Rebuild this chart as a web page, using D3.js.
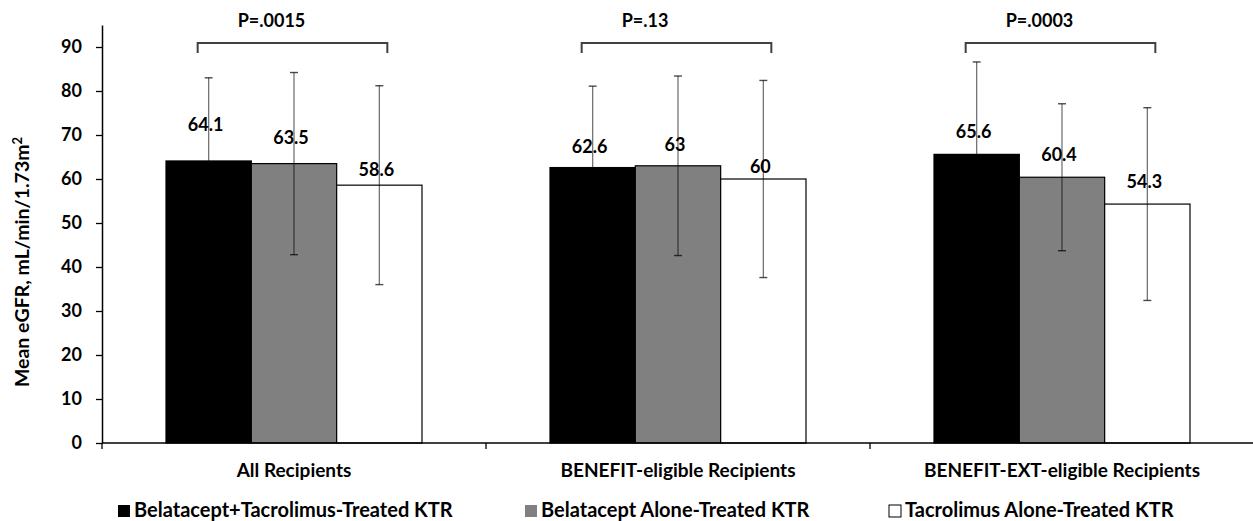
<!DOCTYPE html>
<html>
<head>
<meta charset="utf-8">
<script src="https://cdn.jsdelivr.net/npm/d3@7"></script>
<style>
  html, body { margin: 0; padding: 0; background: #fff; }
  svg { display: block; font-family: Lato, "Open Sans", sans-serif; font-weight: bold; }
</style>
</head>
<body>
<svg id="chart" width="1253" height="521"></svg>
<script>
// ---- data ----
const categories = ["All Recipients", "BENEFIT-eligible Recipients", "BENEFIT-EXT-eligible Recipients"];
const seriesNames = ["Belatacept+Tacrolimus-Treated KTR", "Belatacept Alone-Treated KTR", "Tacrolimus Alone-Treated KTR"];
const belaTacMean = [64.1, 62.6, 65.6];
const belaAloneMean = [63.5, 63, 60.4];
const tacAloneMean = [58.6, 60, 54.3];
const belaTacSD = [18.9, 18.5, 21.0];
const belaAloneSD = [20.7, 20.4, 16.7];
const tacAloneSD = [22.6, 22.4, 21.9];
const pValues = ["P=.0015", "P=.13", "P=.0003"];
const yTicks = [0, 10, 20, 30, 40, 50, 60, 70, 80, 90];
const yTitle = "Mean eGFR, mL/min/1.73m";

// ---- styles / layout ----
const fills = ["#000000", "#808080", "#ffffff"];
const labelLift = [[30, 20, 9], [15, 15, 6], [16, 16, 16]]; // manual label placement (px above bar)
const means = [belaTacMean, belaAloneMean, tacAloneMean];
const sds = [belaTacSD, belaAloneSD, tacAloneSD];

const svg = d3.select("#chart");
const x0 = d3.scaleBand().domain(categories).range([102, 1254]).padding(0);
const x1 = d3.scaleBand().domain(seriesNames).range([64, 320]).padding(0);
const y = d3.scaleLinear().domain([0, 95]).range([443, 25]);

// y axis
const yAxis = svg.append("g").attr("transform", "translate(102,0)")
  .call(d3.axisLeft(y).tickValues(yTicks).tickSize(6).tickPadding(14).tickSizeOuter(0));
yAxis.select(".domain").attr("stroke", "#000").attr("stroke-width", 1.5);
yAxis.selectAll(".tick line").attr("stroke", "#000").attr("stroke-width", 1.3);
yAxis.selectAll(".tick text").attr("font-size", 18).attr("font-weight", "bold")
  .attr("font-family", "Lato").attr("fill", "#000");

// y title
const yt = svg.append("text")
  .attr("transform", "translate(29,262) rotate(-90)")
  .attr("text-anchor", "middle").attr("font-size", 19.5).attr("fill", "#000");
yt.append("tspan").text(yTitle);
yt.append("tspan").attr("font-size", 13).attr("dy", -7).text("2");

// bars
const groups = svg.append("g").selectAll("g").data(categories).join("g")
  .attr("transform", d => `translate(${x0(d)},0)`);

categories.forEach((cat, ci) => {
  const g = groups.filter(d => d === cat);
  seriesNames.forEach((s, si) => {
    const v = means[si][ci];
    const bx = x1(s), bw = x1.bandwidth();
    g.append("rect").attr("x", bx).attr("y", y(v)).attr("width", bw).attr("height", y(0) - y(v))
      .attr("fill", fills[si]).attr("stroke", "#000").attr("stroke-width", 1.2);
  });
  seriesNames.forEach((s, si) => {
    const v = means[si][ci];
    const sd = sds[si][ci];
    const cx = x1(s) + x1.bandwidth() / 2;
    // error bar (semi-transparent dark stroke: grey on white, dark on grey, hidden on black)
    g.append("line").attr("x1", cx).attr("x2", cx).attr("y1", y(v + sd)).attr("y2", y(v - sd))
      .attr("stroke", "#000").attr("stroke-opacity", 0.55).attr("stroke-width", 1.3);
    [v + sd, v - sd].forEach(e => {
      g.append("line").attr("x1", cx - 4).attr("x2", cx + 4).attr("y1", y(e)).attr("y2", y(e))
        .attr("stroke", "#000").attr("stroke-opacity", 0.7).attr("stroke-width", 1.4);
    });
  });
  // value labels
  seriesNames.forEach((s, si) => {
    const v = means[si][ci];
    const cx = x1(s) + x1.bandwidth() / 2;
    g.append("text").attr("x", cx - 3).attr("y", y(v) - labelLift[ci][si])
      .attr("text-anchor", "middle").attr("font-size", 18).attr("fill", "#000").text(v);
  });
  // bracket + p-value
  const left = x1(seriesNames[0]) + x1.bandwidth() / 2 - 11;
  const right = x1(seriesNames[2]) + x1.bandwidth() / 2 + 8;
  g.append("path").attr("d", `M${left},53V43H${right}V53`)
    .attr("fill", "none").attr("stroke", "#404040").attr("stroke-width", 2);
  g.append("text").attr("x", left + 40).attr("y", 27).attr("font-size", 18).attr("fill", "#000")
    .text(pValues[ci]);
});

// x axis
const xAxis = svg.append("g").attr("transform", "translate(0,443)");
xAxis.append("line").attr("x1", 102).attr("x2", 1253).attr("y1", 0).attr("y2", 0)
  .attr("stroke", "#000").attr("stroke-width", 1.5);
const boundaries = categories.map(c => x0(c)).concat([x0.range()[1]]);
xAxis.selectAll(".sep").data(boundaries).join("line").attr("class", "sep")
  .attr("x1", d => d).attr("x2", d => d).attr("y1", 0).attr("y2", 6)
  .attr("stroke", "#000").attr("stroke-width", 1.3);
xAxis.selectAll(".cat").data(categories).join("text").attr("class", "cat")
  .attr("x", d => x0(d) + x0.bandwidth() / 2).attr("y", 34)
  .attr("text-anchor", "middle").attr("font-size", 19).attr("fill", "#000").text(d => d);

// legend
const legendX = [118, 525, 889];
const legend = svg.append("g");
seriesNames.forEach((s, i) => {
  legend.append("rect").attr("x", legendX[i]).attr("y", 505).attr("width", 12).attr("height", 12)
    .attr("fill", fills[i]).attr("stroke", i === 2 ? "#000" : "none").attr("stroke-width", 1);
  legend.append("text").attr("x", legendX[i] + 16).attr("y", 517).attr("font-size", 20)
    .attr("fill", "#000").text(s);
});
</script>
</body>
</html>
